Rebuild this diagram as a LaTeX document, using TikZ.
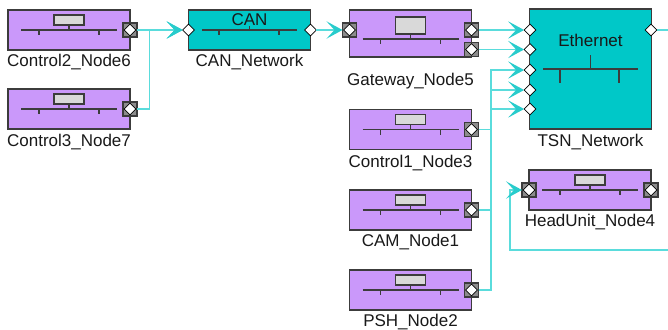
\documentclass[tikz,border=0pt]{standalone}
\usepackage{fontspec}
\setmainfont{Liberation Sans}
\usetikzlibrary{shapes.geometric,arrows.meta}
\definecolor{ecupurple}{RGB}{202,152,250}
\definecolor{netteal}{RGB}{0,200,200}
\definecolor{linkcyan}{RGB}{90,220,220}
\definecolor{tipcyan}{RGB}{40,204,204}
\definecolor{framegray}{RGB}{60,60,60}
\definecolor{chipgray}{RGB}{217,217,217}

\tikzset{
  ecubox/.style={draw=framegray, fill=ecupurple, line width=1.1pt, minimum width=91.5pt,
    minimum height=30pt, inner sep=0pt, outer sep=0pt},
  netbox/.style={ecubox, fill=netteal},
  portsq/.style={draw=framegray, fill=black!45, line width=0.8pt, minimum size=10.5pt,
    inner sep=0pt, outer sep=0pt},
  portdia/.style={diamond, draw=black, fill=white, line width=0.6pt, minimum width=8.8pt,
    minimum height=8.8pt, inner sep=0pt, outer sep=0pt},
  lbl/.style={font=\fontsize{12.75}{14}\selectfont, text=black!90},
  busline/.style={framegray, line width=0.9pt},
  feed/.style={draw=linkcyan, line width=1.3pt,
    -{Stealth[length=12pt, width=13pt, inset=6pt, color=tipcyan]}},
  pics/busicon/.style={code={
    \draw[busline, fill=chipgray] (-15,-#1) rectangle (15,-5);
    \draw[busline] (-48,0) -- (48,0) (0,-5) -- (0,0) (-30,0) -- (-30,5) (30,0) -- (30,5);
  }},
}

\begin{document}
\begin{tikzpicture}[x=0.75pt, y=-0.75pt]
    \useasboundingbox (0,0) rectangle (668,329);
    \fill[white] (0,0) rectangle (668,329);
    \clip (0,0) rectangle (668,329);

    % CAN side controllers
    \node[ecubox] (c2) at (69,30) {};
    \pic at (c2.center) {busicon=15};
    \node[lbl] at (69,62) {Control2\_Node6};
    \node[ecubox] (c3) at (69,109) {};
    \pic at (c3.center) {busicon=15};
    \node[lbl] at (69,142) {Control3\_Node7};

    % CAN bus
    \node[netbox] (can) at (249.5,30) {};
    \node[lbl] at (249.5,20) {CAN};
    \draw[busline] (202,30) -- (297,30) (249.5,26) -- (249.5,30)
        (219,30) -- (219,35) (279,30) -- (279,35);
    \node[lbl] at (249.5,62) {CAN\_Network};

    % Gateway between both buses
    \node[ecubox, minimum height=35.25pt] (gw) at (410.5,33.5) {};
    \pic at (410.5,39) {busicon=22};
    \node[lbl] at (410.5,81) {Gateway\_Node5};

    % Ethernet side nodes
    \node[ecubox] (c1) at (410.5,129.5) {};
    \pic at (c1.center) {busicon=15};
    \node[lbl] at (410.5,163) {Control1\_Node3};
    \node[ecubox] (cam) at (410.5,210) {};
    \pic at (cam.center) {busicon=15};
    \node[lbl] at (410.5,242) {CAM\_Node1};
    \node[ecubox] (psh) at (410.5,290) {};
    \pic at (psh.center) {busicon=15};
    \node[lbl] at (410.5,322) {PSH\_Node2};
    \node[ecubox] (hu) at (590,190) {};
    \pic at (hu.center) {busicon=15};
    \node[lbl] at (590,222) {HeadUnit\_Node4};

    % TSN switch
    \node[netbox, minimum height=90pt] (tsn) at (590.5,69) {};
    \node[lbl] at (590.5,40) {Ethernet};
    \draw[busline] (543,69) -- (638,69) (590.5,55) -- (590.5,69)
        (560,69) -- (560,83) (619,69) -- (619,83);
    \node[lbl] at (590.5,142) {TSN\_Network};

    % ECU ports
    \node[portsq] (c2out) at (c2.east) {};
    \node[portsq] (c3out) at (c3.east) {};
    \node[portsq] (gwin) at (349.5,30) {};
    \node[portsq] (gwout1) at (471.5,30) {};
    \node[portsq] (gwout2) at (471.5,49.5) {};
    \node[portsq] (c1out) at (c1.east) {};
    \node[portsq] (camout) at (cam.east) {};
    \node[portsq] (pshout) at (psh.east) {};
    \node[portsq] (huin) at (hu.west) {};
    \node[portsq] (huout) at (hu.east) {};
    \foreach \p in {c2out,c3out,gwin,gwout1,gwout2,c1out,camout,pshout,huin,huout}
        \node[portdia] at (\p) {};

    % network ports
    \node[portdia] (canin) at (can.west) {};
    \node[portdia] (canout) at (can.east) {};
    \node[portdia] (tsnin1) at (530,30) {};
    \node[portdia] (tsnin2) at (530,49.5) {};
    \node[portdia] (tsnin3) at (530,70) {};
    \node[portdia] (tsnin4) at (530,90) {};
    \node[portdia] (tsnin5) at (530,109) {};
    \node[portdia] (tsnout) at (651,30) {};

    % links
    \draw[feed] (c2out.east) -- (canin.west);
    \draw[feed] (c3out.east) -- ++(12.5,0) |- (canin.west);
    \draw[feed] (canout.east) -- (gwin.west);
    \draw[feed] (gwout1.east) -- (tsnin1.west);
    \draw[feed] (gwout2.east) -- (tsnin2.west);
    \draw[feed] (c1out.east) -- ++(12.5,0) |- (tsnin3.west);
    \draw[feed] (camout.east) -- ++(12.5,0) |- (tsnin4.west);
    \draw[feed] (pshout.east) -- ++(12.5,0) |- (tsnin5.west);
    \draw[feed] (tsnout.east) -- ++(30,0) |- (510,250) |- (huin.west);
\end{tikzpicture}
\end{document}
